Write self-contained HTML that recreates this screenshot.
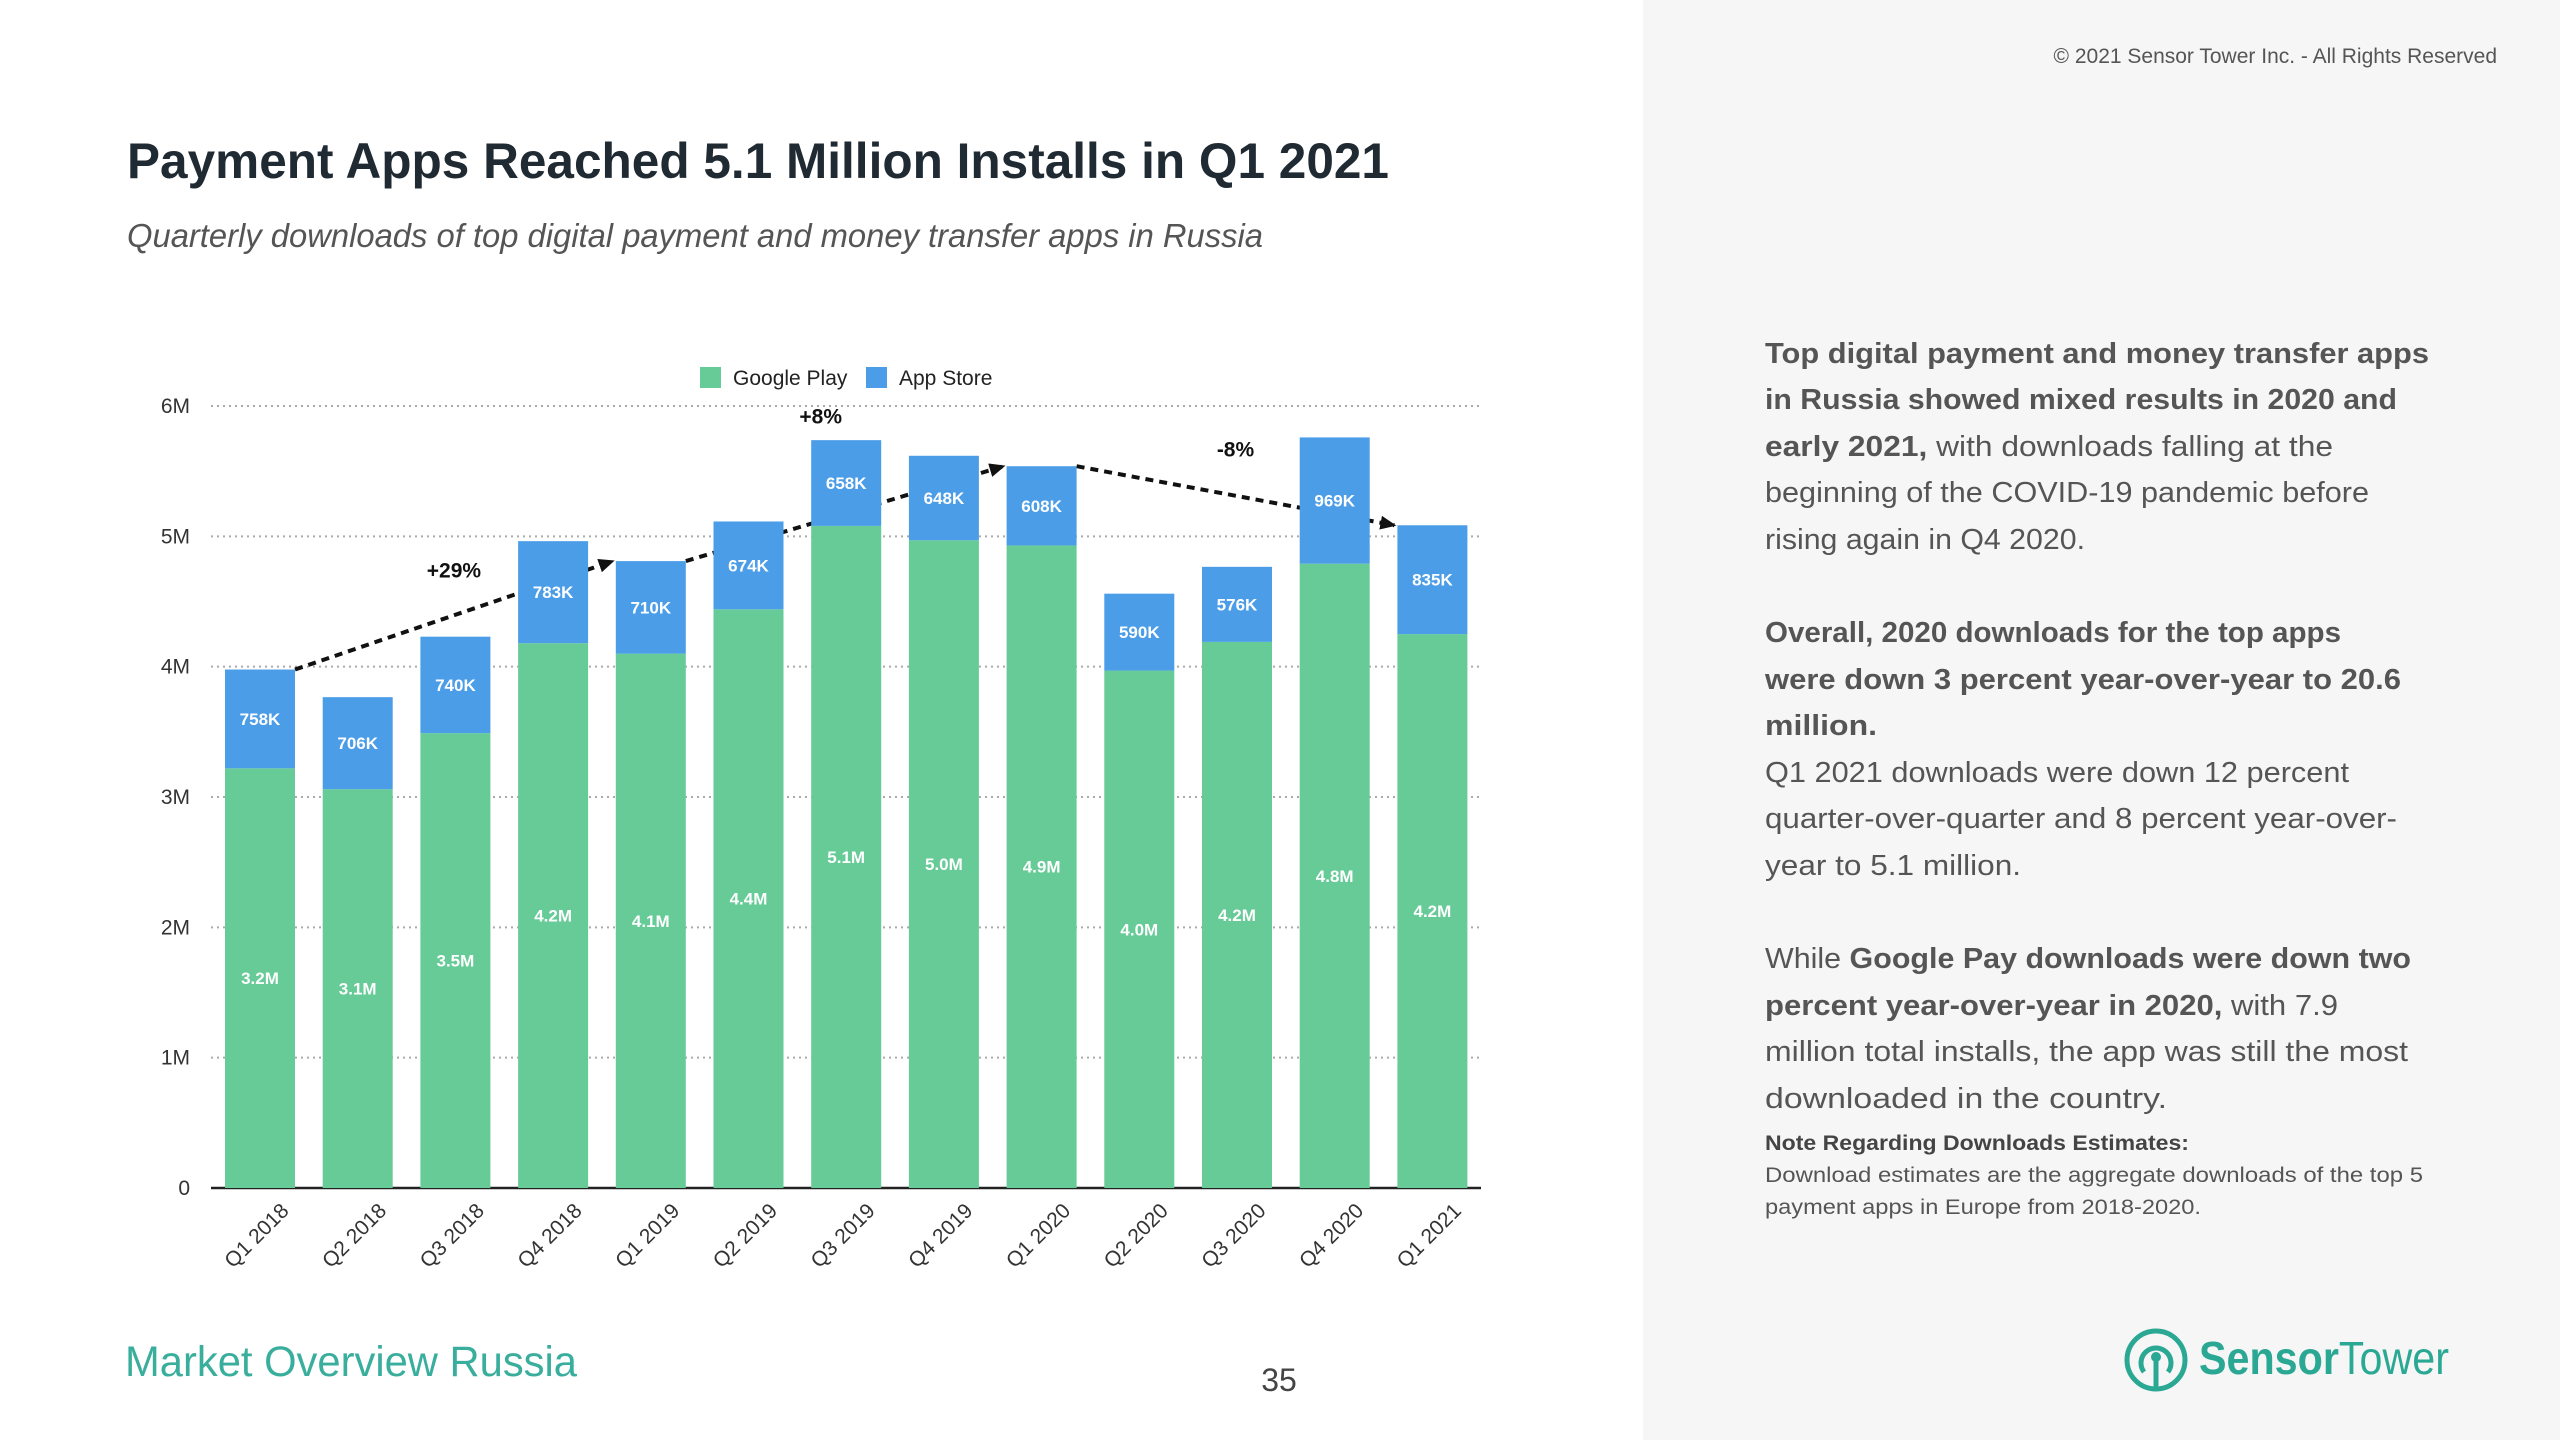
<!DOCTYPE html>
<html><head><meta charset="utf-8"><style>
html,body{margin:0;padding:0;background:#fff}
svg{display:block}
text{font-family:"Liberation Sans",sans-serif}
</style></head><body>
<svg id="root" width="2560" height="1440" viewBox="0 0 2560 1440">
<rect x="0" y="0" width="2560" height="1440" fill="#ffffff"/>
<rect x="1643" y="0" width="917" height="1440" fill="#f6f6f6"/>
<text x="127" y="178" font-size="50" font-weight="bold" fill="#1f2a33" textLength="1262" lengthAdjust="spacingAndGlyphs">Payment Apps Reached 5.1 Million Installs in Q1 2021</text>
<text x="127" y="247" font-size="33" font-style="italic" fill="#555" textLength="1136" lengthAdjust="spacingAndGlyphs">Quarterly downloads of top digital payment and money transfer apps in Russia</text>
<text x="2497" y="63" font-size="21" fill="#555" text-anchor="end">© 2021 Sensor Tower Inc. - All Rights Reserved</text>

<g id="chart"></g>

<g>
<g><rect x="700" y="367" width="21" height="21" fill="#67cb98"/><text x="733" y="385" font-size="21" fill="#222">Google Play</text></g>
<g><rect x="866" y="367" width="21" height="21" fill="#4b9de8"/><text x="899" y="385" font-size="21" fill="#222">App Store</text></g>
</g>

<g font-size="29" fill="#555">
<text x="1765" y="363" font-weight="bold" textLength="664" lengthAdjust="spacingAndGlyphs">Top digital payment and money transfer apps</text>
<text x="1765" y="409" textLength="632" lengthAdjust="spacingAndGlyphs"><tspan font-weight="bold">in Russia showed mixed results in 2020 and</tspan></text>
<text x="1765" y="456" textLength="568" lengthAdjust="spacingAndGlyphs"><tspan font-weight="bold">early 2021,</tspan> with downloads falling at the</text>
<text x="1765" y="502" textLength="604" lengthAdjust="spacingAndGlyphs">beginning of the COVID-19 pandemic before</text>
<text x="1765" y="549" textLength="320" lengthAdjust="spacingAndGlyphs">rising again in Q4 2020.</text>
<text x="1765" y="642" font-weight="bold" textLength="576" lengthAdjust="spacingAndGlyphs">Overall, 2020 downloads for the top apps</text>
<text x="1765" y="689" font-weight="bold" textLength="636" lengthAdjust="spacingAndGlyphs">were down 3 percent year-over-year to 20.6</text>
<text x="1765" y="735" font-weight="bold" textLength="112" lengthAdjust="spacingAndGlyphs">million.</text>
<text x="1765" y="782" textLength="584" lengthAdjust="spacingAndGlyphs">Q1 2021 downloads were down 12 percent</text>
<text x="1765" y="828" textLength="632" lengthAdjust="spacingAndGlyphs">quarter-over-quarter and 8 percent year-over-</text>
<text x="1765" y="875" textLength="256" lengthAdjust="spacingAndGlyphs">year to 5.1 million.</text>
<text x="1765" y="968" textLength="646" lengthAdjust="spacingAndGlyphs">While <tspan font-weight="bold">Google Pay downloads were down two</tspan></text>
<text x="1765" y="1015" textLength="573" lengthAdjust="spacingAndGlyphs"><tspan font-weight="bold">percent year-over-year in 2020,</tspan> with 7.9</text>
<text x="1765" y="1061" textLength="643" lengthAdjust="spacingAndGlyphs">million total installs, the app was still the most</text>
<text x="1765" y="1108" textLength="402" lengthAdjust="spacingAndGlyphs">downloaded in the country.</text>
<text x="1765" y="1150" font-size="21" font-weight="bold" fill="#444" textLength="424" lengthAdjust="spacingAndGlyphs">Note Regarding Downloads Estimates:</text>
<text x="1765" y="1182" font-size="21" textLength="658" lengthAdjust="spacingAndGlyphs">Download estimates are the aggregate downloads of the top 5</text>
<text x="1765" y="1214" font-size="21" textLength="436" lengthAdjust="spacingAndGlyphs">payment apps in Europe from 2018-2020.</text>
</g>

<text x="125" y="1376" font-size="43" fill="#3aae9d" textLength="452" lengthAdjust="spacingAndGlyphs">Market Overview Russia</text>
<text x="1279" y="1391" font-size="32" fill="#444" text-anchor="middle">35</text>
<g>
<circle cx="2156" cy="1360" r="29" fill="none" stroke="#2aa893" stroke-width="5"/>
<path d="M2144 1372 A15 15 0 1 1 2168 1372" fill="none" stroke="#2aa893" stroke-width="5"/>
<circle cx="2156" cy="1357" r="5" fill="#2aa893"/>
<line x1="2156" y1="1357" x2="2156" y2="1387" stroke="#2aa893" stroke-width="5"/>
<text x="2199" y="1374" font-size="46" font-weight="bold" fill="#2aa893" textLength="250" lengthAdjust="spacingAndGlyphs">Sensor<tspan font-weight="normal">Tower</tspan></text>
</g>
</svg>
<script>
const categories = ["Q1 2018","Q2 2018","Q3 2018","Q4 2018","Q1 2019","Q2 2019","Q3 2019","Q4 2019","Q1 2020","Q2 2020","Q3 2020","Q4 2020","Q1 2021"];
const googlePlay = [3.22,3.06,3.49,4.18,4.10,4.44,5.08,4.97,4.93,3.97,4.19,4.79,4.25];
const appStore = [0.758,0.706,0.740,0.783,0.710,0.674,0.658,0.648,0.608,0.590,0.576,0.969,0.835];
const googlePlayLabels = ["3.2M","3.1M","3.5M","4.2M","4.1M","4.4M","5.1M","5.0M","4.9M","4.0M","4.2M","4.8M","4.2M"];
const appStoreLabels = ["758K","706K","740K","783K","710K","674K","658K","648K","608K","590K","576K","969K","835K"];
const yTicks = [0,1,2,3,4,5,6];
const yTickLabels = ["0","1M","2M","3M","4M","5M","6M"];
const arrowStart = [0,4,8];
const arrowEnd = [4,8,12];
const arrowLabels = ["+29%","+8%","-8%"];

const NS="http://www.w3.org/2000/svg";
const g=document.getElementById('chart');
const x0=211,x1=1481,yBase=1188,yTop=406,yMax=6;
const pitch=97.7,barW=70,first=225;
const labelDx=[0,-24,0], labelDy=[-45,-97,-46];
const yS=v=>yBase-(v/yMax)*(yBase-yTop);
const xL=i=>first+i*pitch;
function el(t,a){const e=document.createElementNS(NS,t);for(const k in a)e.setAttribute(k,a[k]);g.appendChild(e);return e;}

yTicks.forEach((t,i)=>{
  if(t>0){const l=el('line',{x1:x0,x2:x1,y1:yS(t),y2:yS(t),stroke:'#aaa','stroke-width':2,'stroke-dasharray':'2 4'});
  
  }
  const tx=el('text',{x:190,y:yS(t)+7,'font-size':21,fill:'#333','text-anchor':'end'});
  tx.textContent=yTickLabels[i];
  
  
});

const defs=document.createElementNS(NS,'defs');
defs.innerHTML='<marker id="ah" markerWidth="16" markerHeight="14" refX="14" refY="7" orient="auto" markerUnits="userSpaceOnUse"><path d="M0,0 L16,7 L0,14 z" fill="#111"/></marker>';
document.getElementById('root').prepend(defs);
arrowStart.forEach((s,k)=>{
  const e=arrowEnd[k];
  const xa=xL(s)+barW,ya=yS(googlePlay[s]+appStore[s]);
  const xb=xL(e)-3,yb=yS(googlePlay[e]+appStore[e]);
  const ln=el('line',{x1:xa,y1:ya,x2:xb,y2:yb,stroke:'#111','stroke-width':4,'stroke-dasharray':'8 6','marker-end':'url(#ah)'});
  
  
  const mx=(xa+xb)/2+labelDx[k],my=(ya+yb)/2+labelDy[k];
  const t=el('text',{x:mx,y:my+7,'font-size':21,'font-weight':'bold',fill:'#111','text-anchor':'middle'});
  t.textContent=arrowLabels[k];
  
  
});

const ax=el('line',{x1:x0,x2:x1,y1:yBase,y2:yBase,stroke:'#222','stroke-width':2.5});



categories.forEach((c,i)=>{
  const x=xL(i),gp=googlePlay[i],as=appStore[i];
  const r1=el('rect',{x:x,y:yS(gp),width:barW,height:yBase-yS(gp),fill:'#67cb98'});
  
  
  const r2=el('rect',{x:x,y:yS(gp+as),width:barW,height:yS(gp)-yS(gp+as),fill:'#4b9de8'});
  
  
  const t1=el('text',{x:x+barW/2,y:(yS(gp)+yBase)/2+6,'font-size':17,'font-weight':'bold',fill:'#fff','text-anchor':'middle'});
  t1.textContent=googlePlayLabels[i];
  
  
  const t2=el('text',{x:x+barW/2,y:(yS(gp)+yS(gp+as))/2+6,'font-size':17,'font-weight':'bold',fill:'#fff','text-anchor':'middle'});
  t2.textContent=appStoreLabels[i];
  
  
  const cx=x+barW/2+30,cy=1212;
  const t3=el('text',{x:cx,y:cy,'font-size':21,fill:'#333','text-anchor':'end',transform:`rotate(-45 ${cx} ${cy})`});
  t3.textContent=c;
  
  
});
</script>
</body></html>
